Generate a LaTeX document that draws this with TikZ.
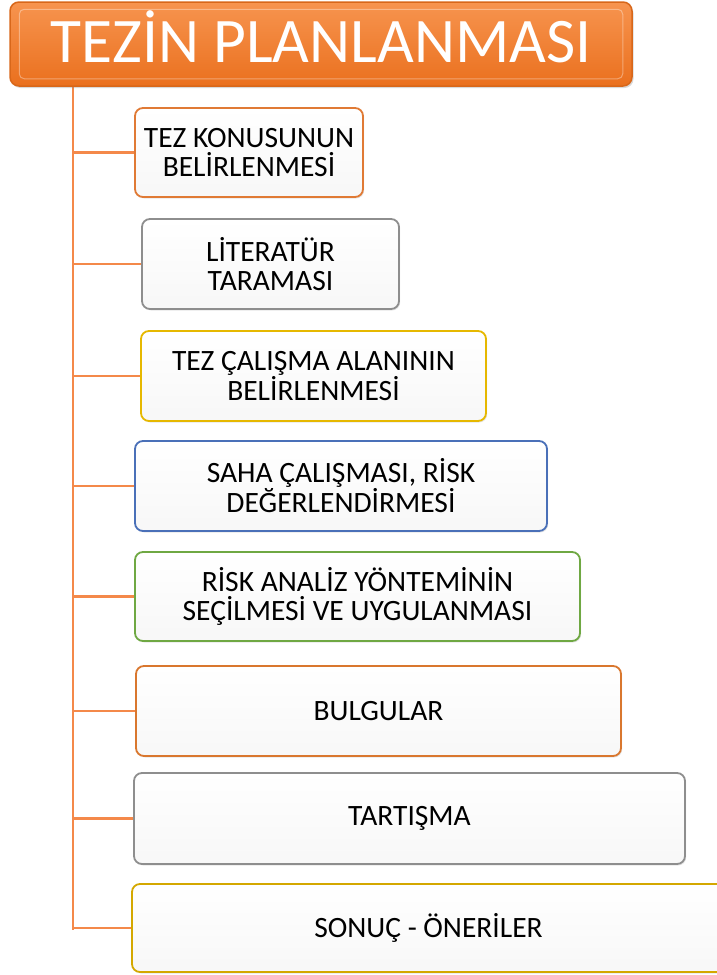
\documentclass[tikz,border=0pt]{standalone}
\usepackage{fontspec}
\setmainfont{Carlito}
\usetikzlibrary{shadows}
\definecolor{lineor}{HTML}{F4894A}
\definecolor{bor}{HTML}{E07A35}
\definecolor{bgray}{HTML}{8E8E8E}
\definecolor{byel}{HTML}{E6B800}
\definecolor{bblue}{HTML}{4A70B8}
\definecolor{bgreen}{HTML}{6FA843}
\definecolor{bor2}{HTML}{D9772E}
\definecolor{bgold}{HTML}{D4A800}
\definecolor{ttop}{HTML}{F7944F}
\definecolor{tbot}{HTML}{EA701E}
\definecolor{tbord}{HTML}{D8671A}
\tikzset{
  stepbox/.style={draw=#1, line width=1.8pt, rounded corners=8pt,
    top color=white, bottom color=black!3, align=center,
    font=\fontsize{29.5}{29}\selectfont, text=black, inner sep=0pt,
    drop shadow={opacity=0.2, shadow xshift=1.2pt, shadow yshift=-1.5pt}},
  conn/.style={draw=lineor, line width=2.2pt},
  titlebox/.style={draw=tbord, line width=1.5pt, rounded corners=9pt,
    top color=ttop, bottom color=tbot, text=white, inner sep=0pt,
    font=\fontsize{63.5}{63.5}\selectfont, text height=41pt, text depth=5pt,
    drop shadow={opacity=0.3, shadow xshift=1.5pt, shadow yshift=-2pt}}
}
\begin{document}
\begin{tikzpicture}[x=1pt,y=-1pt]
\useasboundingbox (0,0) rectangle (717,975);
\clip (0,0) rectangle (717,975);
% spine
\coordinate (s0) at (73,86);
\coordinate (s1) at (73,930);
\draw[conn] (s0) -- (s1);
% title
\node[titlebox, minimum width=622pt, minimum height=84pt] (t) at (321,44) {TEZİN PLANLANMASI};
\draw[white, opacity=0.35, line width=1pt, rounded corners=5pt] ([shift={(10pt,-8pt)}]t.north west) rectangle ([shift={(-10pt,8pt)}]t.south east);
% boxes
\node[stepbox=bor, minimum width=228pt, minimum height=89pt] (b1) at (249,152.5) {TEZ KONUSUNUN\\BELİRLENMESİ};
\node[stepbox=bgray, minimum width=257pt, minimum height=90pt] (b2) at (270.5,264) {LİTERATÜR\\TARAMASI};
\node[stepbox=byel, minimum width=345pt, minimum height=90pt] (b3) at (313.5,376) {TEZ ÇALIŞMA ALANININ\\BELİRLENMESİ};
\node[stepbox=bblue, minimum width=412pt, minimum height=90pt] (b4) at (341,486) {SAHA ÇALIŞMASI, RİSK\\DEĞERLENDİRMESİ};
\node[stepbox=bgreen, minimum width=445pt, minimum height=89pt] (b5) at (357.5,596.5) {RİSK ANALİZ YÖNTEMİNİN\\SEÇİLMESİ VE UYGULANMASI};
\node[stepbox=bor2, minimum width=485pt, minimum height=90pt] (b6) at (378.5,711) {BULGULAR};
\node[stepbox=bgray, minimum width=551pt, minimum height=91pt] (b7) at (409.5,818.5) {TARTIŞMA};
\node[stepbox=bgold, minimum width=593pt, minimum height=88pt] (b8) at (428.5,928) {SONUÇ - ÖNERİLER};
% connectors
\foreach \b in {b1,b2,b3,b4,b5,b6,b7,b8}{
  \draw[conn] (s0 |- \b.west) -- (\b.west);
}
\end{tikzpicture}
\end{document}
